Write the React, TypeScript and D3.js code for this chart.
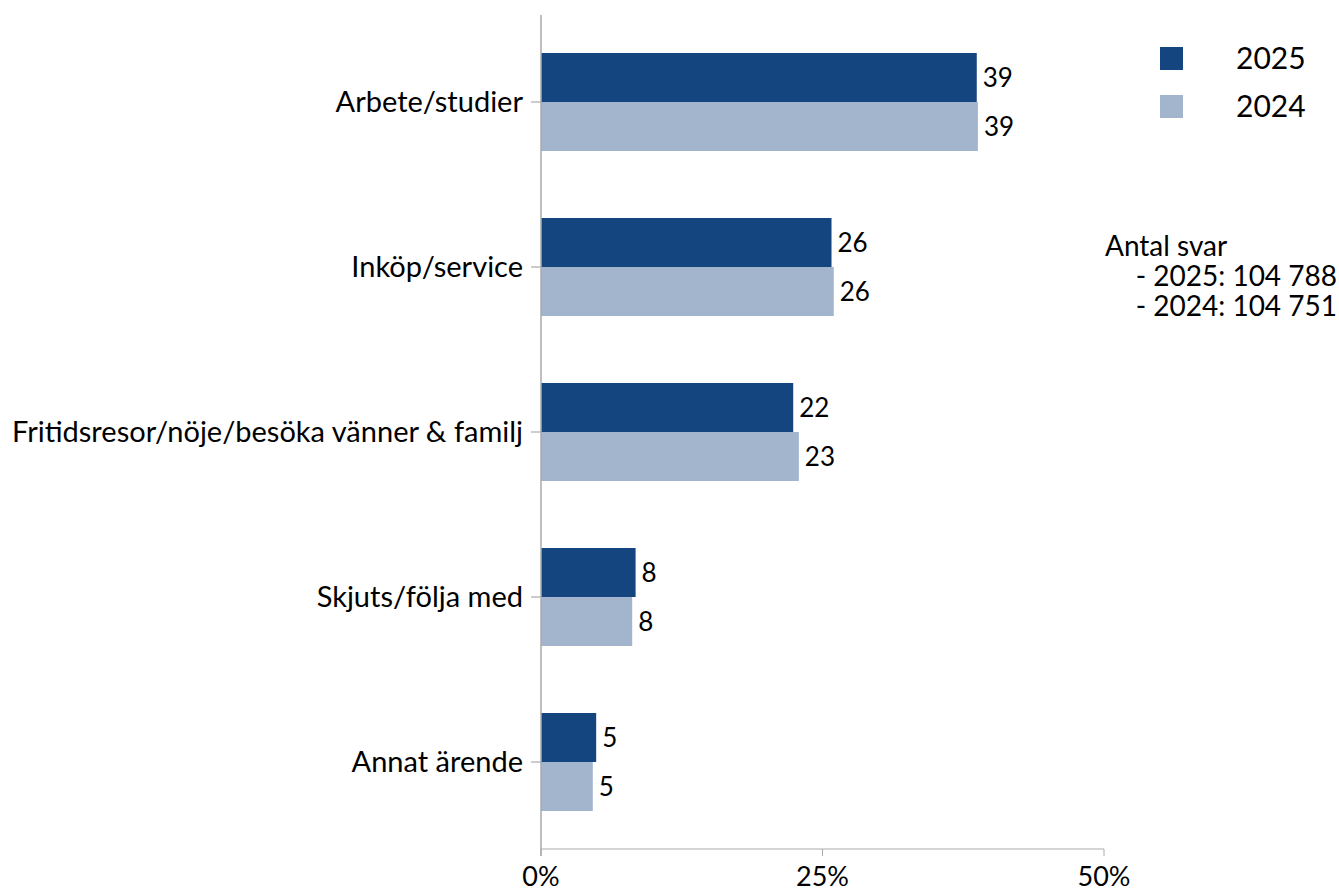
import React from "react";
import * as d3 from "d3";

const categories = [
  "Arbete/studier",
  "Inköp/service",
  "Fritidsresor/nöje/besöka vänner & familj",
  "Skjuts/följa med",
  "Annat ärende",
];
const values2025 = [38.7, 25.8, 22.4, 8.4, 4.9];
const values2024 = [38.8, 26.0, 22.9, 8.1, 4.6];
const seriesNames = ["2025", "2024"];
const xTicks = [0, 25, 50];
const noteLines = ["Antal svar", "- 2025: 104 788", "- 2024: 104 751"];

const colors = ["#14457f", "#a2b5cd"];
const font = "Lato, 'Open Sans', sans-serif";

export default function App() {
  const W = 1339;
  const H = 891;
  const x = d3.scaleLinear().domain([0, 50]).range([541, 1104]);
  const y = d3.scaleBand<string>().domain(categories).range([19.5, 844.5]).paddingInner(0.406).paddingOuter(0.203);
  const barH = 49;
  const series = [values2025, values2024];
  const axisY = 849;

  return (
    <svg width={W} height={H} style={{ position: "absolute", left: 0, top: 0, background: "#fff" }} fontFamily={font}>
      {categories.map((c, i) => {
        const cy = (y(c) as number) + y.bandwidth() / 2;
        return (
          <g key={c}>
            {series.map((vals, s) => {
              const top = cy - barH + s * barH;
              return (
                <g key={s}>
                  <rect x={x(0)} y={top} width={x(vals[i]) - x(0)} height={barH} fill={colors[s]} />
                  <text x={x(vals[i]) + 6} y={top + barH / 2} dy="0.36em" fontSize={26} fill="#000">
                    {d3.format(".0f")(vals[i])}
                  </text>
                </g>
              );
            })}
            <line x1={531} x2={541} y1={cy} y2={cy} stroke="#999" strokeWidth={1} />
            <text x={523} y={cy} dy="0.36em" textAnchor="end" fontSize={29} fill="#000">
              {c}
            </text>
          </g>
        );
      })}
      <line x1={541} x2={541} y1={15} y2={856} stroke="#aaa" strokeWidth={1.5} />
      <line x1={541} x2={1104} y1={axisY} y2={axisY} stroke="#aaa" strokeWidth={1} />
      {xTicks.map((t) => (
        <g key={t}>
          <line x1={x(t)} x2={x(t)} y1={axisY} y2={856} stroke="#aaa" strokeWidth={1} />
          <text x={x(t)} y={886} textAnchor="middle" fontSize={27} fill="#000">
            {t}%
          </text>
        </g>
      ))}
      {seriesNames.map((n, s) => (
        <g key={n}>
          <rect x={1160} y={47 + s * 48} width={23} height={23} fill={colors[s]} />
          <text x={1236} y={58.5 + s * 48} dy="0.36em" fontSize={30} fill="#000">
            {n}
          </text>
        </g>
      ))}
      {noteLines.map((l, i) => (
        <text
          key={i}
          x={i === 0 ? 1105 : 1337}
          y={256 + i * 30}
          textAnchor={i === 0 ? "start" : "end"}
          fontSize={28}
          fill="#000"
        >
          {l}
        </text>
      ))}
    </svg>
  );
}
